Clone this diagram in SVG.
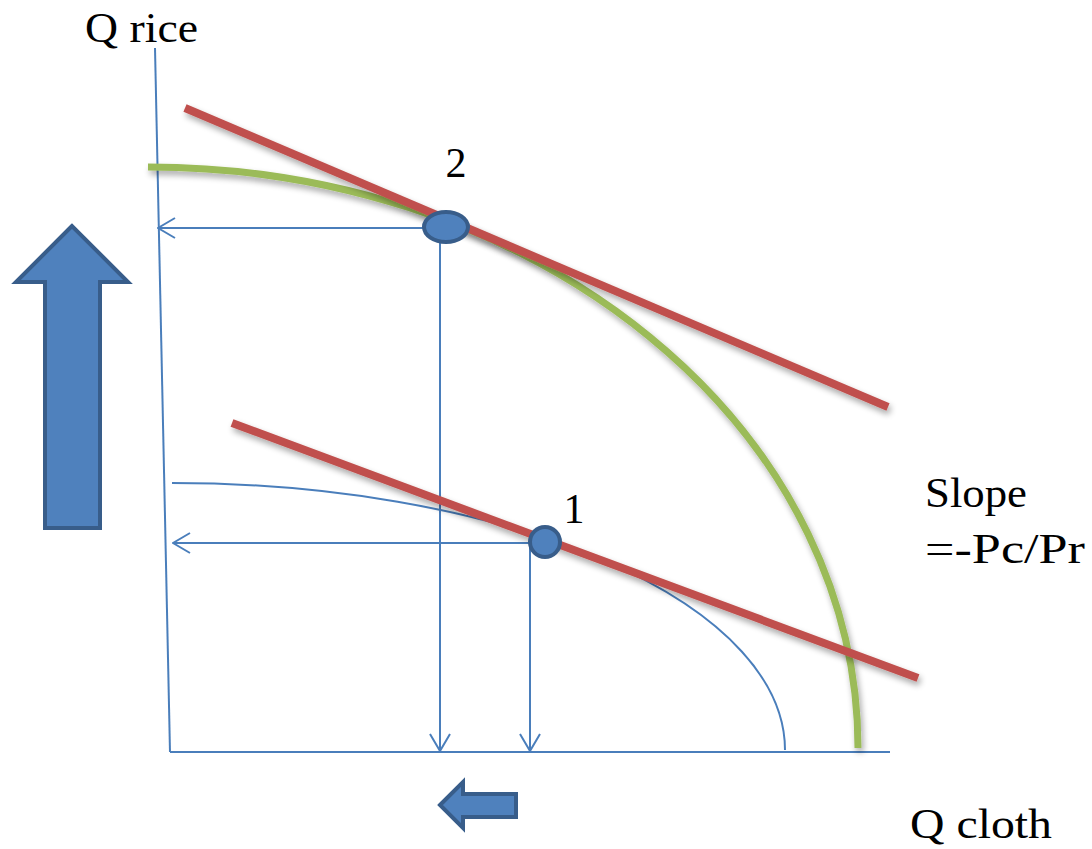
<svg xmlns="http://www.w3.org/2000/svg" width="1092" height="849" viewBox="0 0 1092 849">
<defs>
<style>
.txt{font-family:"Liberation Serif","Times New Roman",serif;font-size:42px;fill:#000}
.thin{stroke:#4A7EBB;stroke-width:2;fill:none}
.red{stroke:#C0504D;stroke-width:8;fill:none;stroke-linecap:butt}
.green{stroke:#9BBB59;stroke-width:7;fill:none}
.pt{fill:#4F81BD;stroke:#385D8A;stroke-width:4}
.big{fill:#4F81BD;stroke:#385D8A;stroke-width:4;stroke-linejoin:miter}
</style>
<marker id="ah" viewBox="0 0 20 24" refX="19" refY="12" markerWidth="20" markerHeight="24" markerUnits="userSpaceOnUse" orient="auto">
<path d="M2,2 L19,12 L2,22" fill="none" stroke="#4A7EBB" stroke-width="2"/>
</marker>
<filter id="sh" x="-10%" y="-10%" width="120%" height="140%">
<feGaussianBlur in="SourceAlpha" stdDeviation="3"/>
<feOffset dx="2" dy="4" result="b"/>
<feComponentTransfer><feFuncA type="linear" slope="0.35"/></feComponentTransfer>
<feMerge><feMergeNode/><feMergeNode in="SourceGraphic"/></feMerge>
</filter>
</defs>
<g id="axes">
<line class="thin" x1="155" y1="48" x2="170" y2="752"/>
<line class="thin" x1="170" y1="752" x2="890" y2="752"/>
</g>
<g id="curves">
<path class="thin" d="M172,483 A613,267 0 0 1 785,750"/>
<path class="green" d="M148,167 A710,581 0 0 1 858,748" filter="url(#sh)"/>
</g>
<g id="connectors">
<line class="thin" x1="446" y1="228" x2="158" y2="228" marker-end="url(#ah)"/>
<line class="thin" x1="440" y1="236" x2="440" y2="751" marker-end="url(#ah)"/>
<line class="thin" x1="530" y1="543" x2="173" y2="543" marker-end="url(#ah)"/>
<line class="thin" x1="530" y1="543" x2="530" y2="751" marker-end="url(#ah)"/>
</g>
<g id="budget-lines">
<line class="red" x1="185" y1="108" x2="888" y2="407" filter="url(#sh)"/>
<line class="red" x1="232" y1="423" x2="918" y2="678" filter="url(#sh)"/>
</g>
<g id="point2">
<ellipse class="pt" cx="446" cy="227" rx="22" ry="15"/>
<text class="txt" x="456" y="177" text-anchor="middle">2</text>
</g>
<g id="point1">
<circle class="pt" cx="545" cy="542" r="15"/>
<text class="txt" x="574" y="523" text-anchor="middle">1</text>
</g>
<g id="up-arrow">
<polygon class="big" points="72,226 16,282 45,282 45,528 100,528 100,282 128,282"/>
</g>
<g id="left-arrow">
<polygon class="big" points="440,805 463,782 463,794 516,794 516,817 463,817 463,828"/>
</g>
<g id="labels">
<text class="txt" x="85" y="42" textLength="113" lengthAdjust="spacingAndGlyphs">Q rice</text>
<text class="txt" x="910" y="838" textLength="142" lengthAdjust="spacingAndGlyphs">Q cloth</text>
<text class="txt" x="925" y="507" textLength="102" lengthAdjust="spacingAndGlyphs">Slope</text>
<text class="txt" x="925" y="563" textLength="160" lengthAdjust="spacingAndGlyphs">=-Pc/Pr</text>
</g>
</svg>
